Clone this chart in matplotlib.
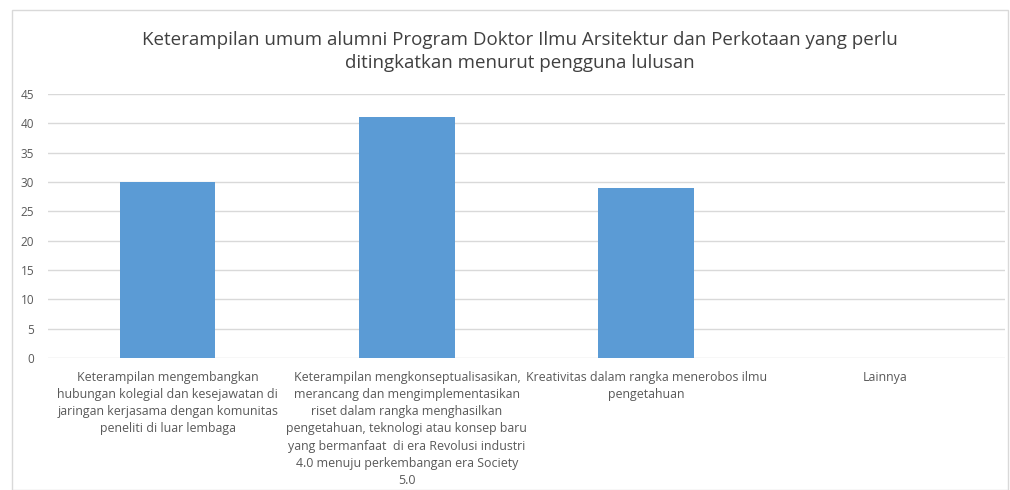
import matplotlib.pyplot as plt
from matplotlib.patches import Rectangle

categories = [
    "Keterampilan mengembangkan\nhubungan kolegial dan kesejawatan di\njaringan kerjasama dengan komunitas\npeneliti di luar lembaga",
    "Keterampilan mengkonseptualisasikan,\nmerancang dan mengimplementasikan\nriset dalam rangka menghasilkan\npengetahuan, teknologi atau konsep baru\nyang bermanfaat  di era Revolusi industri\n4.0 menuju perkembangan era Society\n5.0",
    "Kreativitas dalam rangka menerobos ilmu\npengetahuan",
    "Lainnya",
]
values = [30, 41, 29, 0]
yticks = [0, 5, 10, 15, 20, 25, 30, 35, 40, 45]

plt.rcParams['font.family'] = ['Open Sans', 'DejaVu Sans']
txt = '#595959'

fig = plt.figure(figsize=(10.1, 4.9), dpi=100)
fig.patches.append(Rectangle((12/1010, 0), 996/1010, 1 - 10/490, transform=fig.transFigure,
                             fill=False, edgecolor='#d9d9d9', linewidth=1))

ax = fig.add_axes([48/1010, 1 - 358/490, 957/1010, 264/490])
x = range(len(values))
ax.bar(x, values, width=0.4, color='#5b9bd5', zorder=3)
ax.set_xlim(-0.5, 3.5)
ax.set_ylim(0, 45)
ax.set_yticks(yticks)
ax.grid(axis='y', color='#d9d9d9', linewidth=1, zorder=0)
for s in ax.spines.values():
    s.set_visible(False)
ax.tick_params(axis='both', length=0, colors=txt, labelsize=8.5)
ax.tick_params(axis='y', pad=10)
ax.set_xticks(list(x))
ax.set_xticklabels(categories, fontsize=8.9, color=txt, linespacing=1.43)
ax.tick_params(axis='x', pad=9)

fig.text(0.515, 1 - 51.5/490, "Keterampilan umum alumni Program Doktor Ilmu Arsitektur dan Perkotaan yang perlu\nditingkatkan menurut pengguna lulusan",
         ha='center', va='center', fontsize=13.5, color='#404040', linespacing=1.4)

fig.savefig("out.png", dpi=100)
